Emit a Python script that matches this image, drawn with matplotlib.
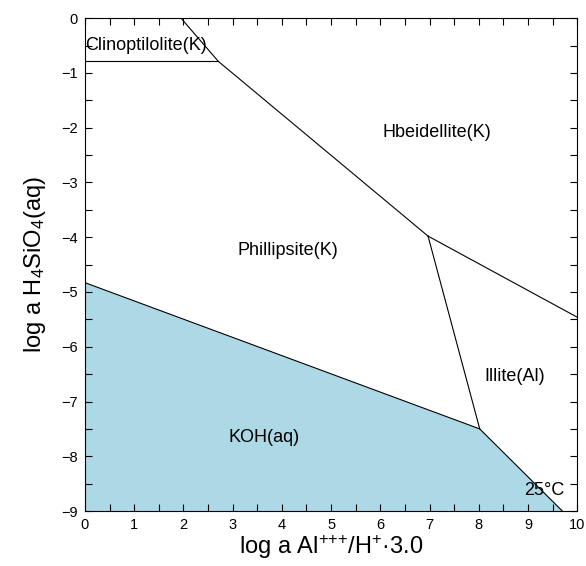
import numpy as np
import matplotlib
matplotlib.use("Agg")
import matplotlib.pyplot as plt
from matplotlib.ticker import MultipleLocator

plt.rcParams['font.family'] = ['Liberation Sans', 'DejaVu Sans']
plt.rcParams['mathtext.default'] = 'regular'

# boundary lines (x = log a Al+++/H+^3, y = log a H4SiO4)
clino_x = [0.0, 2.71]
clino_y = [-0.79, -0.79]
hbeid_x = [1.95, 2.71, 6.97]
hbeid_y = [0.0, -0.79, -3.98]
hb_ill_x = [6.97, 10.0]
hb_ill_y = [-3.98, -5.46]
ph_ill_x = [6.97, 8.02]
ph_ill_y = [-3.98, -7.5]
koh_x = [0.0, 8.02, 9.7]
koh_y = [-4.83, -7.5, -9.0]

labels = ["Clinoptilolite(K)", "Hbeidellite(K)", "Phillipsite(K)", "Illite(Al)", "KOH(aq)"]
label_x = [1.24, 7.15, 4.13, 8.72, 3.63]
label_y = [-0.5, -2.08, -4.25, -6.55, -7.65]

fig = plt.figure(figsize=(5.86, 5.66), dpi=100)
ax = fig.add_axes([0.145, 0.097, 0.84, 0.871])

# KOH(aq) field
ax.fill_between(koh_x, koh_y, -9, color='#add8e6', lw=0)

lw = 0.8
ax.plot(clino_x, clino_y, color='k', lw=lw)
ax.plot(hbeid_x, hbeid_y, color='k', lw=lw)
ax.plot(hb_ill_x, hb_ill_y, color='k', lw=lw)
ax.plot(ph_ill_x, ph_ill_y, color='k', lw=lw)
ax.plot(koh_x, koh_y, color='k', lw=lw)

for t, x, y in zip(labels, label_x, label_y):
    ax.text(x, y, t, ha='center', va='center', fontsize=13)
ax.text(9.73, -8.63, "25°C", ha='right', va='center', fontsize=13)

ax.set_xlim(0, 10)
ax.set_ylim(-9, 0)
ax.xaxis.set_major_locator(MultipleLocator(1))
ax.xaxis.set_minor_locator(MultipleLocator(0.5))
ax.yaxis.set_major_locator(MultipleLocator(1))
ax.yaxis.set_minor_locator(MultipleLocator(0.5))
ax.tick_params(which='both', direction='in', top=True, right=True, length=5, width=0.8, labelsize=10.5)
ax.tick_params(which='major', pad=5)
for s in ax.spines.values():
    s.set_linewidth(0.8)

ax.set_xlabel("log a Al$^{{+}{+}{+}}$/H$^{+}$·3.0", fontsize=17, labelpad=1)
ax.set_ylabel("log a H$_4$SiO$_4$(aq)", fontsize=17, labelpad=10)

fig.savefig("out.png", dpi=100)
